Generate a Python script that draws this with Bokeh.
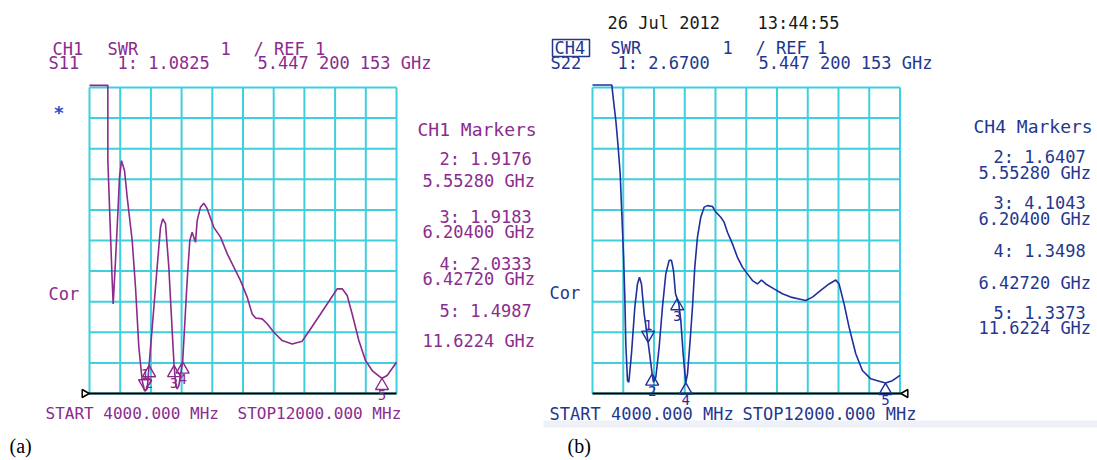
import math
from bokeh.plotting import figure
from bokeh.layouts import row
from bokeh.models import Range1d
from bokeh.core.properties import value
from bokeh.embed import file_html
from bokeh.resources import INLINE

# ---------------- data ----------------
START_MHZ = 4000.0
STOP_MHZ = 12000.0
N_DIV = 10
SWR_REF = 1.0
SWR_PER_DIV = 1.0

ch1_freq_mhz = [4000, 4478, 4478, 4591, 4617, 4678, 4738, 4782, 4834, 4912,
                4982, 5112, 5199, 5286, 5373, 5433, 5447, 5503, 5553, 5763,
                5850, 5910, 5980, 6067, 6154, 6204, 6250, 6284, 6328, 6427,
                6545, 6614, 6675, 6718, 6762, 6806, 6892, 6979, 7066, 7240,
                7414, 7588, 7761, 7935, 8109, 8239, 8326, 8500, 8630, 8804,
                9021, 9282, 9543, 9759, 10020, 10280, 10454, 10585, 10715, 10845,
                11019, 11192, 11366, 11583, 11622, 11757, 12000]
ch1_swr = [11.07, 11.07, 8.61, 4.69, 3.93, 5.35, 6.87, 8.07, 8.61, 8.29,
           7.42, 6.0, 4.47, 2.51, 1.42, 1.1, 1.08, 1.15, 1.92, 5.13,
           6.43, 6.71, 6.55, 5.13, 3.06, 1.92, 1.26, 1.15, 1.26, 2.03,
           4.69, 6.0, 6.27, 6.11, 5.94, 6.65, 7.09, 7.22, 7.04, 6.43,
           6.11, 5.57, 5.13, 4.69, 4.15, 3.6, 3.47, 3.44, 3.28, 3.0,
           2.73, 2.62, 2.71, 3.11, 3.6, 4.09, 4.42, 4.42, 4.2, 3.6,
           2.73, 2.08, 1.75, 1.53, 1.50, 1.59, 2.02]
ch1_marker_ids = [1, 2, 3, 4, 5]
ch1_marker_freq_mhz = [5447.200153, 5552.8, 6204.0, 6427.2, 11622.4]
ch1_marker_swr = [1.0825, 1.9176, 1.9183, 2.0333, 1.4987]

ch4_freq_mhz = [4000, 4503, 4546, 4607, 4668, 4720, 4763, 4806, 4841, 4867,
                4910, 4945, 5014, 5101, 5170, 5222, 5274, 5344, 5447, 5553,
                5586, 5647, 5734, 5820, 5907, 5994, 6055, 6107, 6159, 6204,
                6245, 6297, 6358, 6427, 6471, 6540, 6601, 6661, 6731, 6817,
                6904, 6991, 7121, 7208, 7338, 7424, 7511, 7641, 7771, 7901,
                8031, 8161, 8291, 8395, 8508, 8724, 8941, 9158, 9375, 9548,
                9722, 9938, 10155, 10329, 10415, 10545, 10675, 10849, 11022, 11239,
                11412, 11622, 11802, 12000]
ch4_swr = [11.08, 11.08, 10.58, 9.92, 9.05, 8.18, 6.87, 5.56, 4.15, 2.62,
           1.42, 1.37, 2.3, 3.82, 4.58, 4.8, 4.58, 3.6, 2.67, 1.64,
           1.37, 1.53, 2.51, 3.82, 4.91, 5.35, 5.35, 5.02, 4.26, 4.10,
           3.93, 3.39, 2.3, 1.35, 1.64, 2.73, 3.82, 5.13, 6.11, 6.76,
           7.09, 7.14, 7.11, 6.93, 6.76, 6.6, 6.27, 5.89, 5.45, 5.13,
           4.91, 4.69, 4.58, 4.71, 4.58, 4.42, 4.26, 4.15, 4.09, 4.04,
           4.15, 4.37, 4.58, 4.71, 4.58, 3.93, 3.17, 2.3, 1.75, 1.48,
           1.42, 1.34, 1.42, 1.59]
ch4_marker_ids = [1, 2, 3, 4, 5]
ch4_marker_freq_mhz = [5447.200153, 5552.8, 6204.0, 6427.2, 11622.4]
ch4_marker_swr = [2.6700, 1.6407, 4.1043, 1.3498, 1.3373]

timestamp_date = "26 Jul 2012"
timestamp_time = "13:44:55"

# ---------------- style ----------------
FONT = "DejaVu Sans Mono"
SERIF = "Liberation Serif"
GRID_COLOR = "#3fcfdf"
PURPLE_TRACE = "#8b2a8c"
PURPLE_TEXT = "#8a2c8e"
BLUE_TRACE = "#1f2f9c"
BLUE_TEXT = "#24378f"
STAR_BLUE = "#2a4bd0"

H = 460
TOP_PX, BOTTOM_PX = 0, H


def fmt_ghz(f_mhz):
    g = f_mhz / 1000.0
    dec = 6 - len(str(int(g)))
    return f"{g:.{dec}f} GHz"


def fmt_header_ghz(f_mhz):
    s = f"{f_mhz / 1000.0:.9f}"
    a, b = s.split(".")
    return f"{a}.{b[0:3]} {b[3:6]} {b[6:9]} GHz"


class Panel:
    def __init__(self, left_px, right_px, gx0, gx1, gy0=87, gy1=393):
        self.gx0, self.gx1, self.gy0, self.gy1 = gx0, gx1, gy0, gy1
        self.kx = (STOP_MHZ - START_MHZ) / (gx1 - gx0)
        self.ky = N_DIV * SWR_PER_DIV / (gy1 - gy0)
        p = figure(width=right_px - left_px, height=H,
                   x_range=Range1d(self.X(left_px), self.X(right_px)),
                   y_range=Range1d(self.Y(BOTTOM_PX), self.Y(TOP_PX)),
                   toolbar_location=None, output_backend="svg", min_border=0,
                   x_axis_location=None, y_axis_location=None)
        for g in p.grid:
            g.visible = False
        p.outline_line_color = None
        p.background_fill_color = "white"
        p.border_fill_color = "white"
        self.p = p

    def X(self, px):
        return START_MHZ + (px - self.gx0) * self.kx

    def Y(self, py):
        return SWR_REF + (self.gy1 - py) * self.ky

    def text(self, px, py, s, color, size="17px", font=FONT, align="left",
             baseline="middle", style="normal"):
        self.p.text(x=[self.X(px)], y=[self.Y(py)], text=[s], text_color=color,
                    text_font=value(font), text_font_size=size,
                    text_align=align, text_baseline=baseline,
                    text_font_style=style)

    def grid(self):
        xs = [START_MHZ + i * (STOP_MHZ - START_MHZ) / N_DIV for i in range(N_DIV + 1)]
        ys = [SWR_REF + i * SWR_PER_DIV for i in range(N_DIV + 1)]
        top = SWR_REF + N_DIV * SWR_PER_DIV
        self.p.segment(x0=xs, y0=[SWR_REF] * len(xs), x1=xs, y1=[top] * len(xs),
                       line_color=GRID_COLOR, line_width=2)
        self.p.segment(x0=[START_MHZ] * len(ys), y0=ys, x1=[STOP_MHZ] * len(ys), y1=ys,
                       line_color=GRID_COLOR, line_width=2)

    def markers(self, ids, freqs, swrs, color):
        size = 13
        r = size / 2.0
        h = r * math.sqrt(3)
        apex = 2 * h / 3
        for i, f, s in zip(ids, freqs, swrs):
            if i == 1:
                self.p.scatter([f], [s + apex * self.ky], marker="inverted_triangle",
                               size=size, line_color=color, fill_alpha=0, line_width=1.4)
                self.p.text(x=[f], y=[s], text=[str(i)], y_offset=-(h + 1),
                            text_color=color, text_font=value(FONT),
                            text_font_size="14px", text_align="center",
                            text_baseline="bottom")
            else:
                self.p.scatter([f], [s - apex * self.ky], marker="triangle",
                               size=size, line_color=color, fill_alpha=0, line_width=1.4)
                self.p.text(x=[f], y=[s], text=[str(i)], y_offset=h + 1,
                            text_color=color, text_font=value(FONT),
                            text_font_size="14px", text_align="center",
                            text_baseline="top")


# ---------------- left panel (a) ----------------
L = Panel(0, 540, 89, 396)
pL = L.p
L.grid()
pL.segment(x0=[L.X(84)], y0=[SWR_REF], x1=[STOP_MHZ], y1=[SWR_REF],
           line_color="black", line_width=2)
pL.scatter([L.X(84)], [SWR_REF], marker="triangle", angle=-math.pi / 2,
           size=8, line_color="black", fill_color="white", line_width=1.5)
pL.line(ch1_freq_mhz, ch1_swr, line_color=PURPLE_TRACE, line_width=1.6)
L.markers(ch1_marker_ids, ch1_marker_freq_mhz, ch1_marker_swr, PURPLE_TRACE)

L.text(52, 48, "CH1", PURPLE_TEXT)
L.text(107, 48, "SWR", PURPLE_TEXT)
L.text(220, 48, f"{SWR_PER_DIV:g}", PURPLE_TEXT)
L.text(253, 48, f"/ REF {SWR_REF:g}", PURPLE_TEXT)
L.text(48, 62, "S11", PURPLE_TEXT)
L.text(117, 62, f"1: {ch1_marker_swr[0]:.4f}", PURPLE_TEXT)
L.text(257, 62, fmt_header_ghz(ch1_marker_freq_mhz[0]), PURPLE_TEXT)
L.text(53, 112, "*", STAR_BLUE, size="18px", style="bold")
L.text(48, 293, "Cor", PURPLE_TEXT)
L.text(45, 413, f"START {START_MHZ:.3f} MHz", PURPLE_TEXT, size="16px")
L.text(237, 413, f"STOP{STOP_MHZ:.3f} MHz", PURPLE_TEXT, size="16px")

L.text(417, 129, "CH1 Markers", PURPLE_TEXT, size="18px")
ch1_read_y = [(158, 180), (216, 231), (263, 278), (310, 340)]
for (yv, yf), i, f, s in zip(ch1_read_y, ch1_marker_ids[1:],
                             ch1_marker_freq_mhz[1:], ch1_marker_swr[1:]):
    L.text(439, yv, f"{i}: {s:.4f}", PURPLE_TEXT)
    L.text(422, yf, fmt_ghz(f), PURPLE_TEXT)

L.text(9, 445, "(a)", "black", size="20px", font=SERIF)

# ---------------- right panel (b) ----------------
R = Panel(540, 1097, 592, 899.5)
pR = R.p
pR.quad(left=[R.X(543)], right=[R.X(1097)], bottom=[R.Y(427)], top=[R.Y(420)],
        fill_color="#eef2f8", line_color=None)
R.grid()
pR.segment(x0=[START_MHZ], y0=[SWR_REF], x1=[R.X(903)], y1=[SWR_REF],
           line_color="black", line_width=2)
pR.scatter([R.X(905)], [SWR_REF], marker="triangle", angle=math.pi / 2,
           size=8, line_color="black", fill_color="white", line_width=1.5)
pR.line(ch4_freq_mhz, ch4_swr, line_color=BLUE_TRACE, line_width=1.6)
R.markers(ch4_marker_ids, ch4_marker_freq_mhz, ch4_marker_swr, BLUE_TRACE)

R.text(607, 22, timestamp_date, "#1a1a1a")
R.text(757, 22, timestamp_time, "#1a1a1a")
pR.quad(left=[R.X(552)], right=[R.X(589)], bottom=[R.Y(56)], top=[R.Y(39)],
        fill_alpha=0, line_color=BLUE_TEXT, line_width=1.5)
R.text(554, 47, "CH4", BLUE_TEXT)
R.text(610, 47, "SWR", BLUE_TEXT)
R.text(722, 47, f"{SWR_PER_DIV:g}", BLUE_TEXT)
R.text(755, 47, f"/ REF {SWR_REF:g}", BLUE_TEXT)
R.text(550, 62, "S22", BLUE_TEXT)
R.text(617, 62, f"1: {ch4_marker_swr[0]:.4f}", BLUE_TEXT)
R.text(758, 62, fmt_header_ghz(ch4_marker_freq_mhz[0]), BLUE_TEXT)
R.text(549, 292, "Cor", BLUE_TEXT)
R.text(549, 413, f"START {START_MHZ:.3f} MHz", BLUE_TEXT)
R.text(742, 413, f"STOP{STOP_MHZ:.3f} MHz", BLUE_TEXT)

R.text(973, 126, "CH4 Markers", BLUE_TEXT, size="18px")
ch4_read_y = [(156, 172), (202, 218), (250, 282), (312, 327)]
for (yv, yf), i, f, s in zip(ch4_read_y, ch4_marker_ids[1:],
                             ch4_marker_freq_mhz[1:], ch4_marker_swr[1:]):
    R.text(993, yv, f"{i}: {s:.4f}", BLUE_TEXT)
    R.text(978, yf, fmt_ghz(f), BLUE_TEXT)

R.text(567, 445, "(b)", "black", size="20px", font=SERIF)

layout = row(pL, pR)
open("out.html", "w").write(file_html(layout, INLINE))
